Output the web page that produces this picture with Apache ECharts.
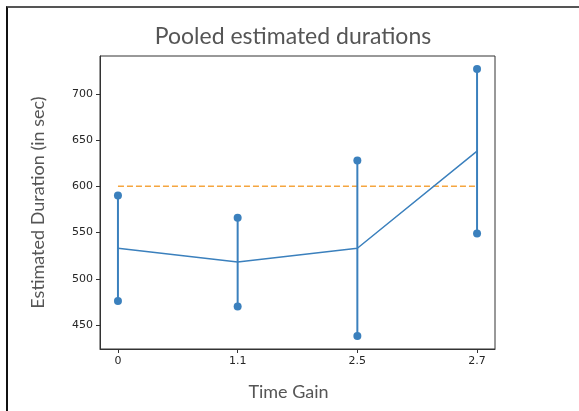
<!DOCTYPE html>
<html>
<head>
<meta charset="utf-8">
<script src="https://cdn.jsdelivr.net/npm/echarts@6/dist/echarts.min.js"></script>
<style>
    html, body { margin: 0; padding: 0; background: #ffffff; }
    #chart { position: absolute; left: 0; top: 0; width: 579px; height: 411px; }
    #frame {
        position: absolute; left: 6px; top: 6px; width: 573px; height: 405px;
        border-left: 2px solid #111; border-top: 2px solid #555;
        box-sizing: border-box; pointer-events: none;
    }
</style>
</head>
<body>
<div id="chart"></div>
<div id="frame"></div>
<script>
    const categories = ["0", "1.1", "2.5", "2.7"];
    const lowValues = [476, 470, 438, 549];
    const highValues = [590, 566, 628, 727];
    const meanValues = [533, 518, 533, 638];
    const referenceValue = 600;
    const yTicks = [450, 500, 550, 600, 650, 700];

    const positions = categories.map((_, i) => i);
    const blue = "#3b80bd";
    const tickFont = { color: "#262626", fontSize: 11, fontFamily: "DejaVu Sans" };

    const chart = echarts.init(document.getElementById("chart"), null, { renderer: "canvas" });

    chart.setOption({
        backgroundColor: "#ffffff",
        animation: false,
        title: {
            text: "Pooled estimated durations",
            left: 288,
            top: 20,
            textAlign: "center",
            textStyle: { color: "#555555", fontSize: 23, fontWeight: "normal", fontFamily: "Lato" }
        },
        grid: { left: 100, right: 84, top: 56, bottom: 62, show: true, borderColor: "#333333", borderWidth: 1 },
        xAxis: {
            type: "value",
            min: -0.15,
            max: 3.15,
            name: "Time Gain",
            nameLocation: "middle",
            nameGap: 34,
            nameTextStyle: { color: "#555555", fontSize: 18, fontFamily: "Lato", padding: [0, 18, 0, 0] },
            axisLine: { onZero: false, lineStyle: { color: "#333333" } },
            axisTick: { customValues: positions, length: 4, lineStyle: { color: "#333333" } },
            axisLabel: Object.assign({
                customValues: positions,
                margin: 7,
                formatter: value => categories[Math.round(value)]
            }, tickFont),
            splitLine: { show: false }
        },
        yAxis: {
            type: "value",
            min: 424,
            max: 741,
            name: "Estimated Duration (in sec)",
            nameLocation: "middle",
            nameGap: 53,
            nameTextStyle: { color: "#555555", fontSize: 18, fontFamily: "Lato" },
            axisLine: { show: true, onZero: false, lineStyle: { color: "#333333" } },
            axisTick: { show: true, customValues: yTicks, length: 4, lineStyle: { color: "#333333" } },
            axisLabel: Object.assign({ customValues: yTicks, margin: 7 }, tickFont),
            splitLine: { show: false }
        },
        series: [
            {
                type: "line",
                data: [[positions[0], referenceValue], [positions[positions.length - 1], referenceValue]],
                symbol: "none",
                lineStyle: { color: "#f5a53f", width: 1.5, type: [6, 3] },
                z: 1
            },
            {
                type: "custom",
                data: positions.map((x, i) => [x, lowValues[i], highValues[i]]),
                renderItem: (params, api) => {
                    const low = api.coord([api.value(0), api.value(1)]);
                    const high = api.coord([api.value(0), api.value(2)]);
                    return {
                        type: "line",
                        shape: { x1: low[0], y1: low[1], x2: high[0], y2: high[1] },
                        style: { stroke: blue, lineWidth: 2 }
                    };
                },
                z: 2
            },
            {
                type: "line",
                data: positions.map((x, i) => [x, meanValues[i]]),
                symbol: "none",
                lineStyle: { color: blue, width: 1.5 },
                z: 3
            },
            {
                type: "scatter",
                data: positions.map((x, i) => [x, lowValues[i]])
                    .concat(positions.map((x, i) => [x, highValues[i]])),
                symbolSize: 8,
                itemStyle: { color: blue, opacity: 1 },
                z: 4
            }
        ]
    });
</script>
</body>
</html>
